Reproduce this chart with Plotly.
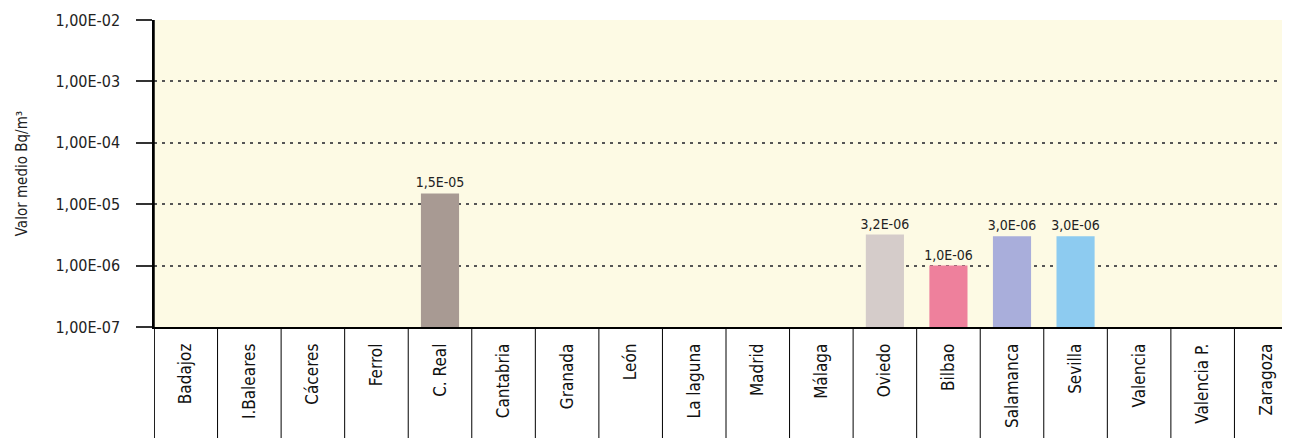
import plotly.graph_objects as go

FONT = "DejaVu Sans Condensed, Liberation Sans Narrow, Arial Narrow, sans-serif"

ciudades = ["Badajoz", "I.Baleares", "Cáceres", "Ferrol", "C. Real", "Cantabria",
            "Granada", "León", "La laguna", "Madrid", "Málaga", "Oviedo", "Bilbao",
            "Salamanca", "Sevilla", "Valencia", "Valencia P.", "Zaragoza"]
valores = [None, None, None, None, 1.5e-05, None, None, None, None, None, None,
           3.2e-06, 1.0e-06, 3.0e-06, 3.0e-06, None, None, None]
etiquetas = ["", "", "", "", "1,5E-05", "", "", "", "", "", "",
             "3,2E-06", "1,0E-06", "3,0E-06", "3,0E-06", "", "", ""]
colores = ["#A89A93"] * 11 + ["#D5CCCA", "#EE809C", "#A9AEDB", "#8DCBF0"] + ["#A89A93"] * 3

y_ticks = [1e-7, 1e-6, 1e-5, 1e-4, 1e-3, 1e-2]
y_ticktext = ["1,00E-07", "1,00E-06", "1,00E-05", "1,00E-04", "1,00E-03", "1,00E-02"]

fig = go.Figure()
fig.add_trace(go.Bar(
    x=ciudades,
    y=valores,
    text=etiquetas,
    textposition="outside",
    constraintext="none",
    textfont=dict(family=FONT, size=14, color="#222"),
    marker=dict(color=colores, line_width=0),
    width=0.6,
    cliponaxis=False,
    showlegend=False,
))

# separator lines of the category table below the axis
bottom = -0.40
for i in range(len(ciudades)):
    fig.add_shape(type="line", xref="x", yref="paper",
                  x0=i - 0.5, x1=i - 0.5, y0=0, y1=bottom,
                  line=dict(color="black", width=1))
fig.add_shape(type="line", xref="x", yref="paper",
              x0=-0.5, x1=-0.5, y0=1, y1=bottom,
              line=dict(color="black", width=1.5))

# the page body adds an 8px offset, margins compensate for it
fig.update_layout(
    width=1290,
    height=438,
    margin=dict(l=146, r=0, t=12, b=119),
    plot_bgcolor="#FDFAE4",
    paper_bgcolor="white",
    font=dict(family=FONT, color="#222"),
)
fig.update_xaxes(
    range=[-0.5, 17.5],
    tickangle=-90,
    tickfont=dict(family=FONT, size=17, color="#111"),
    ticks="",
    ticklabelstandoff=8,
    showline=True,
    linecolor="black",
    linewidth=1.5,
    showgrid=False,
)
fig.update_yaxes(
    type="log",
    range=[-7, -2],
    tickvals=y_ticks,
    ticktext=y_ticktext,
    tickfont=dict(family=FONT, size=16, color="#222"),
    ticks="outside",
    ticklen=16,
    tickcolor="#333",
    tickwidth=1.5,
    ticklabelstandoff=13,
    showline=True,
    linecolor="black",
    linewidth=1.5,
    showgrid=True,
    gridcolor="#555",
    griddash="3px,5px",
    gridwidth=2,
    zeroline=False,
    title=dict(text="Valor medio Bq/m³", font=dict(family=FONT, size=15, color="#222"), standoff=24),
)

fig.write_html("out.html")
